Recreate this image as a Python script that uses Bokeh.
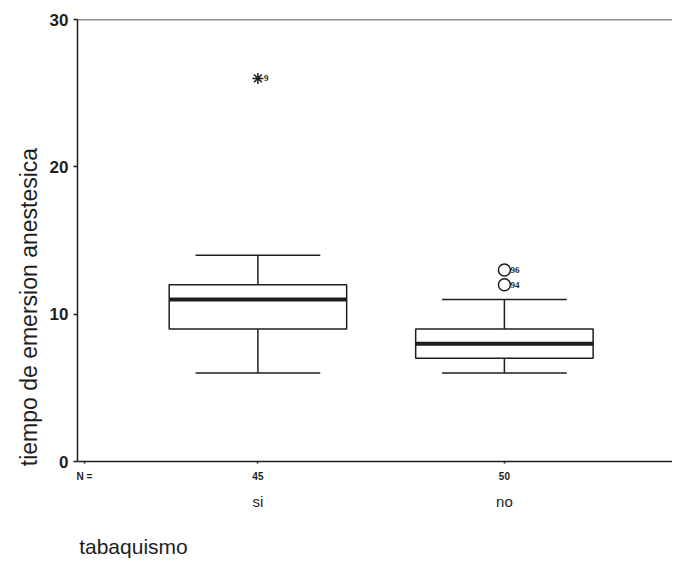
import math
from bokeh.plotting import figure
from bokeh.models import (Range1d, FixedTicker, LinearAxis, Span, ColumnDataSource)
from bokeh.embed import file_html
from bokeh.resources import INLINE

# ---- data ----
categories = ["si", "no"]
counts = ["45", "50"]
q1 = [9, 7]
q3 = [12, 9]
medians = [11, 8]
whisker_low = [6, 6]
whisker_high = [14, 11]

extreme_cat = ["si"]
extreme_val = [26]
extreme_id = ["9"]

outlier_cat = ["no", "no"]
outlier_val = [13, 12]
outlier_id = ["96", "94"]

y_ticks = [0, 10, 20, 30]
x_title = "tabaquismo"
y_title = "tiempo de emersion anestesica"

FONT = "Liberation Sans"
INK = "#1e1e1e"

# category index positions (1, 2, ...)
pos = {c: i + 1 for i, c in enumerate(categories)}
cat_x = [pos[c] for c in categories]
X_START, X_END = 0.268, 2.682
N_POS = X_START + 0.028
X_TITLE_POS = 0.495     # anchor of the left-aligned x title
Y_TITLE_POS = 8.49      # anchor of the y title (sits low along the axis)

p = figure(
    x_range=Range1d(X_START, X_END),
    y_range=Range1d(0, 30),
    width=672, height=560,
    output_backend="svg", toolbar_location=None, title=None,
    x_axis_location=None, y_axis_location="left",
    min_border_left=77, min_border_right=0, min_border_top=19, min_border_bottom=99,
)
p.outline_line_color = None
p.xgrid.grid_line_color = None
p.ygrid.grid_line_color = None
p.background_fill_color = "white"
p.border_fill_color = "white"

# y axis
ya = p.yaxis[0]
ya.ticker = FixedTicker(ticks=y_ticks)
ya.minor_tick_line_color = None
ya.major_tick_in = 0
ya.major_tick_out = 4
ya.major_tick_line_width = 1.5
ya.major_tick_line_color = INK
ya.axis_line_width = 1.5
ya.axis_line_color = INK
ya.major_label_standoff = 5
ya.major_label_text_font = FONT
ya.major_label_text_font_size = "17px"
ya.major_label_text_font_style = "bold"
ya.major_label_text_color = INK

# y title, carried by a bare axis so it can sit low along the axis
y_title_axis = LinearAxis(
    ticker=FixedTicker(ticks=[Y_TITLE_POS]),
    major_label_overrides={Y_TITLE_POS: y_title},
    major_label_orientation=math.pi / 2,
    minor_tick_line_color=None, major_tick_line_color=None, axis_line_color=None,
    major_label_standoff=11, major_label_text_font=FONT,
    major_label_text_font_size="23px", major_label_text_color=INK,
)
p.add_layout(y_title_axis, "left")

# top line of the frame
p.add_layout(Span(location=30, dimension="width", line_color=INK, line_width=1.5))

# counts axis (with the "N =" caption at its left end)
count_labels = {N_POS: "N ="}
count_labels.update({x: n for x, n in zip(cat_x, counts)})
count_axis = LinearAxis(
    ticker=FixedTicker(ticks=[N_POS] + cat_x),
    major_label_overrides=count_labels,
    minor_tick_line_color=None,
    major_label_text_font=FONT, major_label_text_font_size="10px",
    major_label_text_font_style="bold", major_label_text_color=INK,
    major_tick_in=0, major_tick_out=2, major_tick_line_width=1.5, major_tick_line_color=INK,
    major_label_standoff=7, axis_line_width=1.5, axis_line_color=INK,
)
p.add_layout(count_axis, "below")

# category axis
cat_axis = LinearAxis(
    ticker=FixedTicker(ticks=cat_x),
    major_label_overrides={x: c for x, c in zip(cat_x, categories)},
    minor_tick_line_color=None,
    axis_line_color=None, major_tick_line_color=None,
    major_label_standoff=2, major_label_text_font=FONT,
    major_label_text_font_size="15px", major_label_text_color=INK,
)
p.add_layout(cat_axis, "below")

# x title, left-aligned under the axes
x_title_axis = LinearAxis(
    ticker=FixedTicker(ticks=[X_TITLE_POS]),
    major_label_overrides={X_TITLE_POS: x_title},
    minor_tick_line_color=None, axis_line_color=None, major_tick_line_color=None,
    major_label_standoff=16, major_label_text_font=FONT,
    major_label_text_font_size="21px", major_label_text_color=INK,
)
p.add_layout(x_title_axis, "below")

src = ColumnDataSource(dict(x=cat_x, q1=q1, q3=q3, med=medians,
                            lo=whisker_low, hi=whisker_high,
                            cl=[x - 0.253 for x in cat_x], cr=[x + 0.253 for x in cat_x],
                            ml=[x - 0.36 for x in cat_x], mr=[x + 0.36 for x in cat_x]))

# whisker stems
p.segment(x0="x", y0="q3", x1="x", y1="hi", source=src, line_color=INK, line_width=1.5)
p.segment(x0="x", y0="lo", x1="x", y1="q1", source=src, line_color=INK, line_width=1.5)
# caps
for col in ("hi", "lo"):
    p.segment(x0="cl", y0=col, x1="cr", y1=col, source=src, line_color=INK, line_width=1.5)
# boxes
p.vbar(x="x", bottom="q1", top="q3", width=0.72, source=src,
       fill_color="white", line_color=INK, line_width=1.5)
# medians
p.segment(x0="ml", y0="med", x1="mr", y1="med", source=src, line_color=INK, line_width=4)

# extremes
esrc = ColumnDataSource(dict(x=[pos[c] for c in extreme_cat], v=extreme_val, t=extreme_id))
p.scatter(x="x", y="v", source=esrc, marker="asterisk", size=11,
          line_color=INK, line_width=1.5)
p.text(x="x", y="v", text="t", source=esrc, x_offset=6, text_font=FONT,
       text_font_size="9px", text_font_style="bold", text_baseline="middle",
       text_color=INK)

# outliers
osrc = ColumnDataSource(dict(x=[pos[c] for c in outlier_cat], v=outlier_val, t=outlier_id))
p.scatter(x="x", y="v", source=osrc, marker="circle", size=12,
          fill_color="white", line_color=INK, line_width=1.5)
p.text(x="x", y="v", text="t", source=osrc, x_offset=6, text_font=FONT,
       text_font_size="9px", text_font_style="bold", text_baseline="middle",
       text_color=INK)

open("out.html", "w").write(file_html(p, INLINE))
